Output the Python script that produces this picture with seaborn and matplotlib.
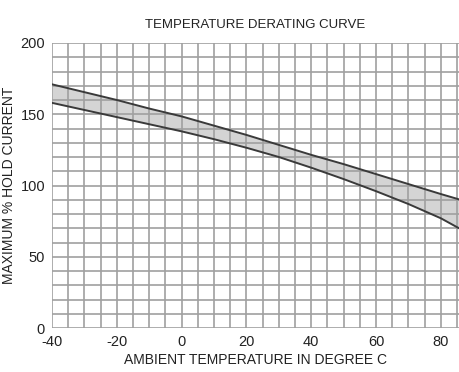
import matplotlib
matplotlib.use("Agg")
import matplotlib.pyplot as plt
import pandas as pd
import seaborn as sns
from matplotlib.ticker import MultipleLocator

# values
temps = [-40, -30, -20, -10, 0, 10, 20, 30, 40, 50, 60, 70, 80, 86]
upper = [171, 165.5, 160, 154, 148.5, 142, 135.5, 128.5, 121.5, 115, 108, 101, 94, 90]
lower = [158, 153, 148, 143, 138, 132.5, 126.5, 120, 112.5, 104.5, 96, 87, 77, 69.5]
x_ticks = [-40, -20, 0, 20, 40, 60, 80]
y_ticks = [0, 50, 100, 150, 200]

df = pd.DataFrame({"temp": temps, "upper": upper, "lower": lower})

sns.set_style("white")
plt.rcParams["font.family"] = ["Liberation Sans", "DejaVu Sans"]
plt.rcParams["axes.unicode_minus"] = False

fig = plt.figure(figsize=(4.59, 3.72), dpi=100)
ax = fig.add_axes([52 / 459, 1 - 328 / 372, 1 - 52 / 459, (328 - 43) / 372])

grid_color = "#a0a0a0"
ax.fill_between(df["temp"], df["lower"], df["upper"], color="#d4d4d4", zorder=1, lw=0)
sns.lineplot(data=df, x="temp", y="upper", ax=ax, color="#3a3a3a", lw=1.4, zorder=3)
sns.lineplot(data=df, x="temp", y="lower", ax=ax, color="#3a3a3a", lw=1.4, zorder=3)

ax.set_xlim(-40, 85.6)
ax.set_ylim(0, 200)
ax.set_xticks(x_ticks)
ax.set_yticks(y_ticks)
ax.xaxis.set_minor_locator(MultipleLocator(5))
ax.yaxis.set_minor_locator(MultipleLocator(10))
ax.grid(True, which="both", color=grid_color, lw=1.2, zorder=2)
ax.set_axisbelow(False)
for spine in ax.spines.values():
    spine.set_visible(False)

ax.tick_params(axis="both", which="major", length=3, width=1, color=grid_color,
               labelsize=10.5, labelcolor="#222222", pad=2)
ax.tick_params(axis="both", which="minor", length=0)

ax.set_title("TEMPERATURE DERATING CURVE", fontsize=9.5, color="#222222", pad=11)
ax.set_xlabel("AMBIENT TEMPERATURE IN DEGREE C", fontsize=10, color="#222222", labelpad=3)
ax.set_ylabel("MAXIMUM % HOLD CURRENT", fontsize=10, color="#222222", labelpad=3)

fig.savefig("out.png", dpi=100, facecolor="white")
